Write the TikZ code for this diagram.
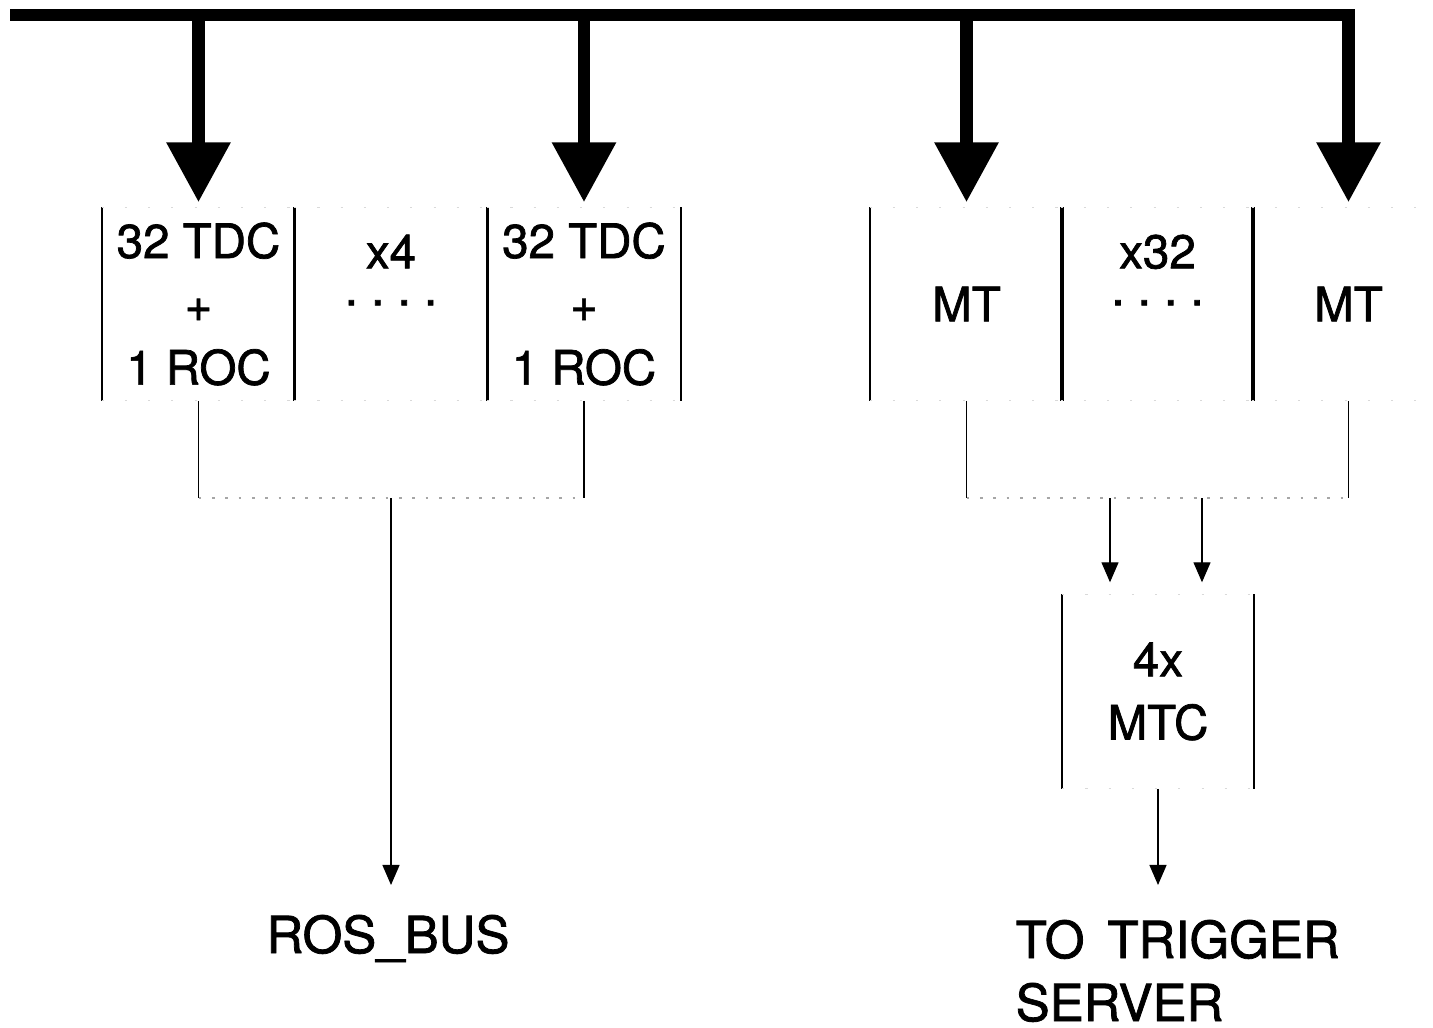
\documentclass[tikz,border=0pt]{standalone}
\usepackage{fontspec}
\setmainfont{TeX Gyre Heros}[FakeBold=1.5]
\usetikzlibrary{arrows.meta}
\newcommand{\boxfont}{\fontsize{13.5}{18}\selectfont}
\newcommand{\labfont}{\fontsize{14.5}{18}\selectfont}

\begin{document}
\begin{tikzpicture}[x=0.01cm, y=-0.01cm,
    cell/.style={minimum width=1.92cm, minimum height=1.92cm, inner sep=0pt, align=center, font=\boxfont},
    count/.style={font=\boxfont, align=center, inner sep=0pt},
    side/.style={line width=0.5pt},
    faint/.style={draw=black!35, line width=0.4pt, dash pattern=on 0.8pt off 3pt},
    rim/.style={draw=black!15, line width=0.4pt, dash pattern=on 0.6pt off 6pt},
    bus/.style={line width=3.6pt, line join=miter},
    busarrow/.style={bus, -{Triangle[width=0.61cm, length=0.6cm]}, shorten >=1.4pt},
    thinarrow/.style={line width=0.35pt, -{Triangle[width=0.17cm, length=0.2cm]}},
    tag/.style={font=\labfont, inner sep=0pt}]
  \useasboundingbox (0,0) rectangle (1433,1027);

  % readout side
  \node[cell] (tdcA) at (198.5,304) {32 TDC\\+\\1 ROC};
  \node[cell] (repA) at (391,304) {};
  \node[cell] (tdcB) at (584,304) {32 TDC\\+\\1 ROC};
  \node[count] (cntA) at (391,270) {x4\\[-7.5pt].\ .\ .\ .};

  % trigger side
  \node[cell] (mtA) at (966.5,304) {MT};
  \node[cell] (repB) at (1157.5,304) {};
  \node[cell] (mtB) at (1348.5,304) {MT};
  \node[count] (cntB) at (1157.5,270) {x32\\[-7.5pt].\ .\ .\ .};
  \node[cell, minimum width=1.9cm, minimum height=1.93cm] (mtc) at (1158,691.5) {4x\\MTC};

  % outputs
  \node[tag, anchor=base] (ros) at (388,953) {ROS\_BUS};
  \node[tag, anchor=base west] (trig) at (1015,958) {TO\hspace{0.45em}TRIGGER};
  \node[tag, anchor=base west] (srv) at (1015,1021) {SERVER};

  \coordinate (bus) at (10,15);
  \coordinate (low) at (0,498);
  \coordinate (rosIn) at (391,885);
  \coordinate (trigIn) at (1158,885);
  \coordinate (inA) at (1110,498);
  \coordinate (inB) at (1202,498);

  % box sides
  \foreach \n in {tdcA,repA,tdcB,mtA,repB,mtB,mtc}{
    \draw[side] (\n.north west) -- (\n.south west) (\n.north east) -- (\n.south east);
    \draw[rim] (\n.north west) -- (\n.north east) (\n.south west) -- (\n.south east);
  }

  % bus and drops
  \draw[busarrow] (bus) -- (bus -| mtB.north) -- (mtB.north);
  \foreach \n in {tdcA,tdcB,mtA}
    \draw[busarrow] (bus -| \n.north) -- (\n.north);

  % readout collection
  \draw[side] (tdcA.south) -- (tdcA.south |- low);
  \draw[side] (tdcB.south) -- (tdcB.south |- low);
  \draw[faint] (tdcA.south |- low) -- (tdcB.south |- low);
  \draw[thinarrow] (repA.south |- low) -- (rosIn);

  % trigger collection
  \draw[side] (mtA.south) -- (mtA.south |- low);
  \draw[side] (mtB.south) -- (mtB.south |- low);
  \draw[faint] (mtA.south |- low) -- (mtB.south |- low);
  \draw[thinarrow, shorten >=3.4pt] (inA) -- (inA |- mtc.north);
  \draw[thinarrow, shorten >=3.4pt] (inB) -- (inB |- mtc.north);
  \draw[thinarrow] (mtc.south) -- (trigIn);
\end{tikzpicture}
\end{document}
